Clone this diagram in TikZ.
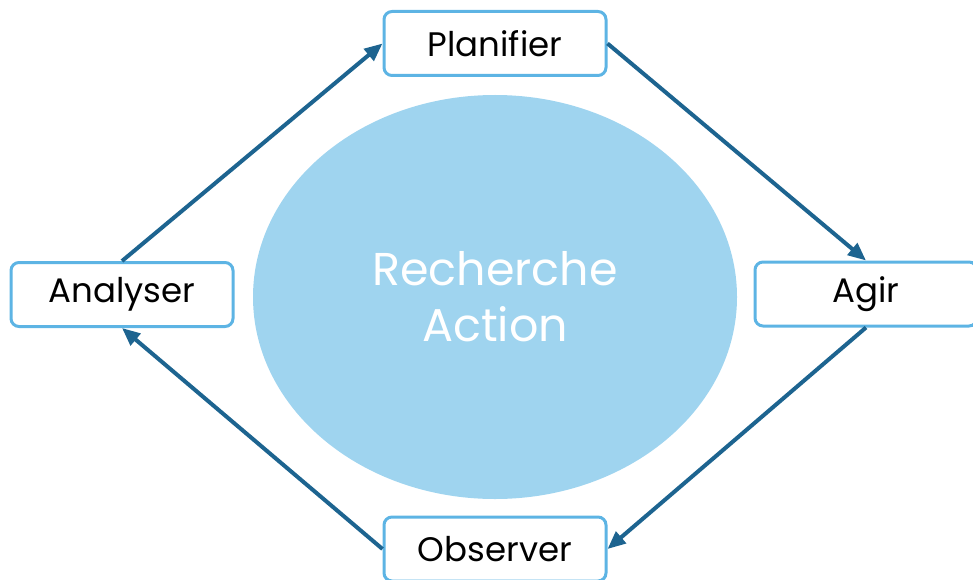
\documentclass[tikz,border=0pt]{standalone}
\usepackage{fontspec}
\setmainfont{Poppins}
\usepackage{tikz}
\usetikzlibrary{positioning, arrows.meta, shapes.geometric}
\definecolor{boxblue}{HTML}{5DB4E4}
\definecolor{arrowblue}{HTML}{1D6490}
\definecolor{ellblue}{HTML}{9FD4EF}

\begin{document}
\begin{tikzpicture}[x=1pt, y=-1pt,
  stage/.style={draw=boxblue, line width=3pt, rounded corners=8pt, fill=white,
    minimum width=222pt, minimum height=64pt, inner sep=0pt, font=\fontsize{34}{40}\selectfont},
  cycle/.style={-{Triangle[length=18pt, width=15pt]}, draw=arrowblue, line width=4pt}]
\useasboundingbox (0,0) rectangle (973,580);
% Define the nodes
\node[ellipse, fill=ellblue, minimum width=484pt, minimum height=404pt, text=white,
  align=center, font=\fontsize{46}{56}\selectfont] (ra) at (495,297) {Recherche\\Action};
\node[stage] (plan) at (495,43.5) {Planifier};
\node[stage] (agir) at (866,294) {Agir};
\node[stage] (obs) at (495,549) {Observer};
\node[stage] (ana) at (122,294.5) {Analyser};

% Draw the maps
\draw[cycle] (ana.north) -- (plan.west);
\draw[cycle] (plan.east) -- (agir.north);
\draw[cycle] (agir.south) -- (obs.east);
\draw[cycle] (obs.west) -- (ana.south);
\end{tikzpicture}
\end{document}
